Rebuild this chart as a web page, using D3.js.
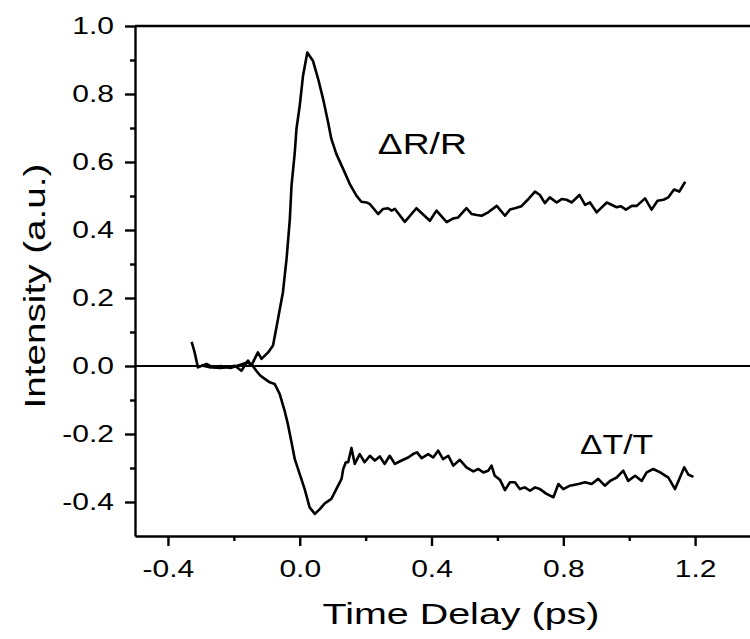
<!DOCTYPE html>
<html>
<head>
    <meta charset="utf-8">
    <title>Pump-probe dR/R and dT/T</title>
    <script src="https://d3js.org/d3.v7.min.js"></script>
    <style>
        body { margin: 0; background: #fff; }
        svg text { font-family: "Liberation Sans", Arial, Helvetica, sans-serif; fill: #000; }
        .axis path, .axis line { stroke: #000; stroke-width: 2.4px; }
        .trace { fill: none; stroke: #000; stroke-width: 2.6px; stroke-linejoin: round; }
    </style>
</head>
<body>
<div id="chart"></div>
<script>
    // (time in ps, intensity in a.u.)
    const reflTime = [-0.328, -0.319, -0.309, -0.283, -0.263, -0.243, -0.223, -0.197, -0.177, -0.157,
        -0.147, -0.127, -0.116, -0.096, -0.081, -0.066, -0.051, -0.040, -0.030, -0.025,
        -0.015, -0.010, 0.000, 0.010, 0.023, 0.040, 0.056, 0.071, 0.086, 0.096,
        0.111, 0.132, 0.152, 0.172, 0.187, 0.203, 0.213, 0.238, 0.253, 0.268,
        0.279, 0.289, 0.319, 0.354, 0.395, 0.415, 0.446, 0.466, 0.481, 0.506,
        0.522, 0.537, 0.552, 0.572, 0.598, 0.623, 0.638, 0.653, 0.673, 0.689,
        0.714, 0.729, 0.744, 0.759, 0.780, 0.795, 0.810, 0.825, 0.849, 0.866,
        0.881, 0.901, 0.932, 0.962, 0.974, 0.990, 1.008, 1.023, 1.048, 1.068,
        1.086, 1.104, 1.119, 1.136, 1.152, 1.170];
    const reflValue = [0.071, 0.040, -0.004, 0.006, -0.004, -0.006, -0.004, 0.001, -0.014, 0.016,
        0.001, 0.040, 0.021, 0.040, 0.060, 0.138, 0.217, 0.315, 0.432, 0.530,
        0.628, 0.697, 0.766, 0.854, 0.922, 0.898, 0.844, 0.785, 0.717, 0.668,
        0.624, 0.579, 0.535, 0.501, 0.483, 0.481, 0.476, 0.447, 0.462, 0.464,
        0.457, 0.462, 0.424, 0.464, 0.427, 0.457, 0.423, 0.434, 0.437, 0.464,
        0.447, 0.444, 0.442, 0.452, 0.471, 0.442, 0.460, 0.464, 0.470, 0.486,
        0.513, 0.503, 0.479, 0.496, 0.481, 0.491, 0.489, 0.481, 0.503, 0.474,
        0.481, 0.452, 0.481, 0.467, 0.470, 0.460, 0.471, 0.471, 0.493, 0.460,
        0.486, 0.489, 0.496, 0.519, 0.513, 0.542];

    const transTime = [-0.300, -0.270, -0.240, -0.210, -0.180, -0.160, -0.145, -0.132, -0.120, -0.106,
        -0.091, -0.076, -0.061, -0.046, -0.036, -0.025, -0.015, 0.000, 0.015, 0.030,
        0.046, 0.061, 0.076, 0.096, 0.111, 0.127, 0.132, 0.140, 0.147, 0.157,
        0.167, 0.182, 0.197, 0.213, 0.228, 0.243, 0.258, 0.273, 0.289, 0.309,
        0.329, 0.344, 0.356, 0.370, 0.390, 0.405, 0.420, 0.435, 0.451, 0.466,
        0.486, 0.506, 0.527, 0.542, 0.557, 0.572, 0.582, 0.592, 0.608, 0.623,
        0.638, 0.653, 0.668, 0.683, 0.699, 0.714, 0.729, 0.749, 0.770, 0.785,
        0.800, 0.820, 0.846, 0.866, 0.886, 0.906, 0.926, 0.942, 0.962, 0.982,
        0.997, 1.018, 1.038, 1.053, 1.073, 1.094, 1.119, 1.139, 1.154, 1.167,
        1.180, 1.195];
    const transValue = [0.002, -0.004, 0.000, -0.006, 0.004, 0.010, 0.004, -0.014, -0.028, -0.038,
        -0.048, -0.053, -0.082, -0.131, -0.171, -0.224, -0.274, -0.318, -0.362, -0.416,
        -0.435, -0.421, -0.404, -0.391, -0.362, -0.332, -0.303, -0.283, -0.283, -0.241,
        -0.288, -0.259, -0.283, -0.264, -0.278, -0.266, -0.288, -0.264, -0.288, -0.278,
        -0.269, -0.259, -0.254, -0.271, -0.259, -0.269, -0.249, -0.274, -0.264, -0.293,
        -0.276, -0.298, -0.310, -0.303, -0.313, -0.308, -0.293, -0.323, -0.335, -0.365,
        -0.342, -0.342, -0.362, -0.357, -0.367, -0.357, -0.362, -0.376, -0.386, -0.347,
        -0.362, -0.352, -0.347, -0.342, -0.347, -0.332, -0.352, -0.338, -0.328, -0.308,
        -0.338, -0.323, -0.338, -0.313, -0.303, -0.313, -0.328, -0.362, -0.328, -0.298,
        -0.320, -0.326];

    const xMajor = [-0.4, 0.0, 0.4, 0.8, 1.2];
    const xMinor = [-0.2, 0.2, 0.6, 1.0];
    const yMajor = [-0.4, -0.2, 0.0, 0.2, 0.4, 0.6, 0.8, 1.0];
    const yMinor = [-0.3, -0.1, 0.1, 0.3, 0.5, 0.7, 0.9];

    const width = 750, height = 639;
    const margin = { top: 26, right: -11, bottom: 103, left: 135 };

    const svg = d3.select("#chart").append("svg")
        .attr("width", width)
        .attr("height", height);

    const x = d3.scaleLinear().domain([-0.5, 1.4]).range([margin.left, width - margin.right]);
    const y = d3.scaleLinear().domain([-0.5, 1.0]).range([height - margin.bottom, margin.top]);
    // plain hyphen for the minus sign, like the printed figure
    const fmt = d => d3.format(".1f")(d).replace("\u2212", "-");

    // minor ticks first, majors with labels on top
    svg.append("g").attr("class", "axis")
        .attr("transform", `translate(0,${y(-0.5)})`)
        .call(d3.axisBottom(x).tickValues(xMinor).tickSize(5).tickFormat(""))
        .select(".domain").remove();
    svg.append("g").attr("class", "axis")
        .attr("transform", `translate(${x(-0.5)},0)`)
        .call(d3.axisLeft(y).tickValues(yMinor).tickSize(5).tickFormat(""))
        .select(".domain").remove();

    svg.append("g").attr("class", "axis")
        .attr("transform", `translate(0,${y(-0.5)})`)
        .call(d3.axisBottom(x).tickValues(xMajor).tickSize(10).tickSizeOuter(0).tickPadding(14).tickFormat(fmt));
    svg.append("g").attr("class", "axis")
        .attr("transform", `translate(${x(-0.5)},0)`)
        .call(d3.axisLeft(y).tickValues(yMajor).tickSize(10).tickSizeOuter(0).tickPadding(11).tickFormat(fmt));
    svg.selectAll(".axis text").attr("font-size", 24).attr("font-family", null);

    // top frame line and the zero line
    svg.append("line")
        .attr("x1", x(-0.5)).attr("x2", x(1.4))
        .attr("y1", y(1.0)).attr("y2", y(1.0))
        .attr("stroke", "#000").attr("stroke-width", 2.4);
    svg.append("line")
        .attr("x1", x(-0.5)).attr("x2", x(1.4))
        .attr("y1", y(0)).attr("y2", y(0))
        .attr("stroke", "#000").attr("stroke-width", 2.2);

    const line = d3.line()
        .x(d => x(d[0]))
        .y(d => y(d[1]));

    svg.append("path").attr("class", "trace")
        .datum(d3.zip(transTime, transValue))
        .attr("d", line);
    svg.append("path").attr("class", "trace")
        .datum(d3.zip(reflTime, reflValue))
        .attr("d", line);

    // curve labels
    svg.append("text")
        .attr("x", x(0.237)).attr("y", y(0.623))
        .attr("font-size", 29)
        .attr("data-w", 89)
        .text("\u0394R/R");
    svg.append("text")
        .attr("x", x(0.851)).attr("y", y(-0.259))
        .attr("font-size", 28)
        .attr("data-w", 73)
        .text("\u0394T/T");

    // axis titles
    svg.append("text")
        .attr("x", 461).attr("y", 624)
        .attr("text-anchor", "middle")
        .attr("font-size", 29)
        .attr("data-w", 277)
        .text("Time Delay (ps)");
    svg.append("text")
        .attr("transform", "translate(45,286) rotate(-90)")
        .attr("text-anchor", "middle")
        .attr("font-size", 29)
        .attr("data-w", 245)
        .text("Intensity (a.u.)");

    // the printed font is a lot wider than Liberation Sans, so stretch the text
    svg.selectAll("text").each(function() {
        const t = d3.select(this);
        const w = t.attr("data-w") ? +t.attr("data-w") : this.getComputedTextLength() * 1.25;
        t.attr("textLength", w).attr("lengthAdjust", "spacingAndGlyphs");
    });
</script>
</body>
</html>
